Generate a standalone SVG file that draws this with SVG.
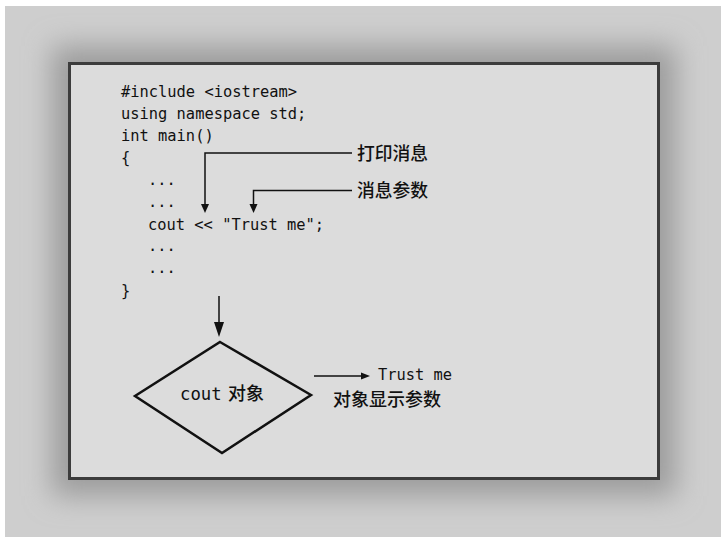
<svg xmlns="http://www.w3.org/2000/svg" width="728" height="543" viewBox="0 0 728 543">
  <style>
    .code { font-family: "DejaVu Sans Mono", "Liberation Mono", monospace; font-size: 15.4px; fill: #111; }
    .cjk { font-family: "Noto Sans CJK SC", "Noto Sans", sans-serif; font-size: 17.8px; fill: #111; font-weight: 500; }
    .line { stroke: #111; stroke-width: 1.5; fill: none; }
    .head { fill: #111; stroke: none; }
  </style>
  <defs>
    <filter id="blur" x="-20%" y="-20%" width="140%" height="140%">
      <feGaussianBlur stdDeviation="14"/>
    </filter>
    <clipPath id="frame"><rect x="5" y="6" width="716" height="531"/></clipPath>
  </defs>

  <rect x="0" y="0" width="728" height="543" fill="#ffffff"/>
  <g id="background" clip-path="url(#frame)">
    <rect x="5" y="6" width="716" height="531" fill="#cecece"/>
    <rect x="52" y="46" width="624" height="450" fill="#9c9c9c" filter="url(#blur)"/>
  </g>

  <g id="panel">
    <rect x="69.5" y="63.5" width="589" height="415" fill="#dcdcdc" stroke="#3c3c3c" stroke-width="3"/>
  </g>

  <g id="code">
    <text class="code" x="121" y="97">#include &lt;iostream&gt;</text>
    <text class="code" x="121" y="119">using namespace std;</text>
    <text class="code" x="121" y="141">int main()</text>
    <text class="code" x="121" y="163">{</text>
    <text class="code" x="148" y="185">...</text>
    <text class="code" x="148" y="207">...</text>
    <text class="code" x="148" y="230">cout &lt;&lt; "Trust me";</text>
    <text class="code" x="148" y="251">...</text>
    <text class="code" x="148" y="273">...</text>
    <text class="code" x="121" y="296">}</text>
  </g>

  <g id="label-print">
    <text class="cjk" x="357" y="160">打印消息</text>
  </g>
  <g id="label-arg">
    <text class="cjk" x="357" y="197">消息参数</text>
  </g>

  <g id="cout-object">
    <polygon points="220,342 311,395 222,453 135,396" fill="none" stroke="#111" stroke-width="2.5" stroke-linejoin="miter"/>
    <text x="180" y="400" style="font-family: 'DejaVu Sans Mono', 'Liberation Mono', monospace; font-size: 17.3px; fill: #111;">cout</text>
    <text class="cjk" x="228" y="400" style="font-size: 18px;">对象</text>
  </g>

  <g id="output">
    <text class="code" x="378" y="380">Trust me</text>
    <text class="cjk" x="333" y="406" style="font-size: 18px;">对象显示参数</text>
  </g>

  <g id="connectors">
    <polyline class="line" points="352,153 205,153 205,205"/>
    <polygon class="head" points="201,204 209,204 205,213"/>
    <polyline class="line" points="352,190.5 253.5,190.5 253.5,205"/>
    <polygon class="head" points="249.5,204 257.5,204 253.5,213"/>
    <line class="line" x1="219" y1="296" x2="219" y2="324"/>
    <polygon class="head" points="214,322 224,322 219,337"/>
    <line class="line" x1="314" y1="376" x2="362" y2="376"/>
    <polygon class="head" points="361,372.5 361,379.5 370,376"/>
  </g>
</svg>
